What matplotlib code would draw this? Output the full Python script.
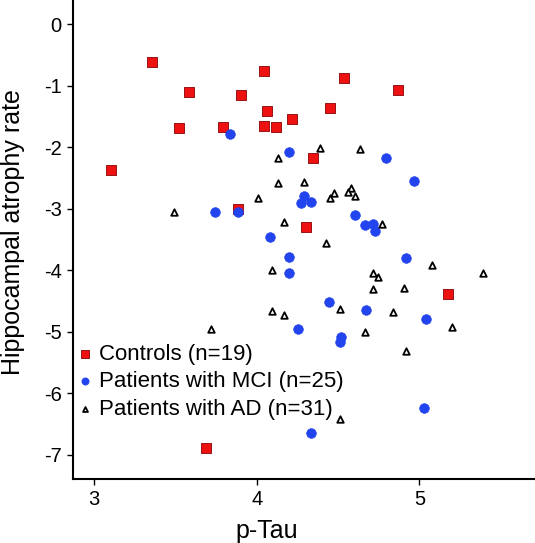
import matplotlib.pyplot as plt

plt.rcParams['font.family'] = ['Liberation Sans', 'DejaVu Sans']
plt.rcParams['axes.unicode_minus'] = False

# Controls (red squares)
ctrl_x = [3.355, 4.046, 3.583, 3.905, 4.063, 4.214, 3.521, 3.792, 4.044, 4.116,
          3.107, 3.884, 4.536, 4.867, 4.452, 4.348, 4.305, 5.178, 3.689]
ctrl_y = [-0.61, -0.77, -1.10, -1.16, -1.41, -1.55, -1.69, -1.68, -1.66, -1.67,
          -2.37, -3.00, -0.88, -1.08, -1.37, -2.18, -3.29, -4.38, -6.88]

# Patients with MCI (blue circles)
mci_x = [3.839, 4.198, 3.742, 3.884, 4.079, 4.797, 4.969, 4.290, 4.274, 4.333,
         4.604, 4.668, 4.715, 4.725, 4.198, 4.198, 4.253, 4.915, 4.442, 4.674,
         5.041, 4.518, 4.510, 5.027, 4.333]
mci_y = [-1.78, -2.08, -3.06, -3.06, -3.46, -2.18, -2.55, -2.79, -2.90, -2.89,
         -3.10, -3.27, -3.25, -3.36, -3.78, -4.04, -4.95, -3.80, -4.51, -4.65,
         -4.79, -5.09, -5.16, -6.23, -6.64]

# Patients with AD (open triangles)
ad_x = [4.132, 4.132, 4.007, 3.490, 4.165, 4.389, 4.635, 4.290, 4.477, 4.452,
        4.580, 4.559, 4.604, 4.771, 4.428, 4.097, 4.097, 4.165, 3.720, 5.076,
        5.388, 4.713, 4.744, 4.715, 4.906, 4.514, 4.840, 5.203, 4.666, 4.915,
        4.514]
ad_y = [-2.17, -2.58, -2.82, -3.06, -3.21, -2.01, -2.03, -2.56, -2.75, -2.82,
        -2.67, -2.73, -2.80, -3.25, -3.56, -4.00, -4.66, -4.73, -4.96, -3.91,
        -4.05, -4.05, -4.11, -4.31, -4.29, -4.63, -4.68, -4.92, -5.01, -5.32,
        -6.41]

x_ticks = [3, 4, 5]
y_ticks = [0, -1, -2, -3, -4, -5, -6, -7]

fig = plt.figure(figsize=(5.35, 5.43), dpi=100)
ax = fig.add_axes([0.136, 0.118, 0.864, 0.882])

ax.scatter(ctrl_x, ctrl_y, marker='s', s=58, c='#ee1111', edgecolors='#8a0000',
           linewidths=0.6, label='Controls (n=19)', zorder=3)
ax.scatter(mci_x, mci_y, marker='o', s=48, c='#2244ee', edgecolors='#2244ee',
           linewidths=0.5, label='Patients with MCI (n=25)', zorder=3)
ax.scatter(ad_x, ad_y, marker='^', s=22, facecolors='white', edgecolors='black',
           linewidths=1.3, label='Patients with AD (n=31)', zorder=3)

ax.set_xlim(2.87, 5.71)
ax.set_ylim(-7.39, 0.39)
ax.set_xticks(x_ticks)
ax.set_yticks(y_ticks)
ax.spines['top'].set_visible(False)
ax.spines['right'].set_visible(False)
ax.spines['left'].set_linewidth(1.5)
ax.spines['bottom'].set_linewidth(1.5)
ax.tick_params(direction='out', length=4, width=1, labelsize=14.5, pad=4)

ax.set_xlabel('p-Tau', fontsize=18)
ax.set_ylabel('Hippocampal atrophy rate', fontsize=18)
ax.xaxis.set_label_coords(0.42, -0.084)
ax.yaxis.set_label_coords(-0.103, 0.516)

ax.legend(loc='upper left', bbox_to_anchor=(-0.035, 0.315), frameon=False,
          fontsize=16, handletextpad=0.0, labelspacing=0.3, borderpad=0.2,
          markerscale=0.75, handlelength=1.2)

fig.savefig('out.png', dpi=100)
